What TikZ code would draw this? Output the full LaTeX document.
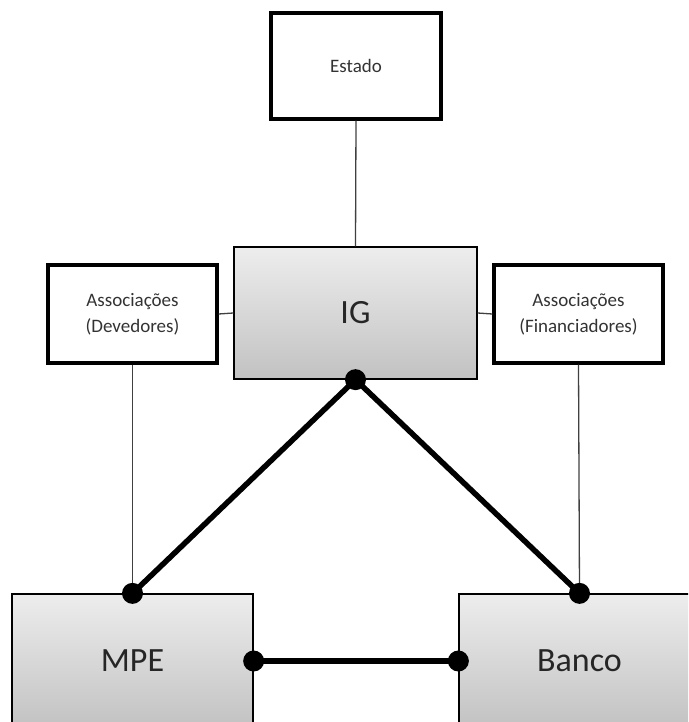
\documentclass[tikz,border=0pt]{standalone}
\usepackage{fontspec}
\setmainfont{Carlito}
\usetikzlibrary{arrows.meta}

\tikzset{
  plainbox/.style={draw, line width=3.2pt, fill=white, align=center, inner sep=0pt, text=black!80},
  shadedbox/.style={draw, line width=1.3pt, top color=black!7, bottom color=black!24, inner sep=0pt, text=black!85},
  thinline/.style={line width=1.3pt, black!75},
  thickline/.style={line width=5.5pt, black},
  dot/.style={circle, fill=black, inner sep=0pt, minimum size=21pt}
}

\begin{document}
\begin{tikzpicture}[x=1pt,y=-1pt]
            \clip (0,0) rectangle (688,722);

            \node[plainbox, minimum width=170pt, minimum height=106pt, font=\fontsize{19}{23}\selectfont] (estado) at (356,66) {Estado};

            \node[shadedbox, minimum width=243pt, minimum height=132pt, font=\fontsize{34}{40}\selectfont] (ig) at (355.5,313) {IG};

            \node[plainbox, minimum width=169pt, minimum height=98pt, font=\fontsize{19}{26}\selectfont] (dev) at (132.5,314) {Associações\\(Devedores)};
            \node[plainbox, minimum width=169pt, minimum height=98pt, font=\fontsize{19}{26}\selectfont] (fin) at (578.5,314) {Associações\\(Financiadores)};

            \node[shadedbox, minimum width=241pt, minimum height=134pt, font=\fontsize{34}{40}\selectfont] (mpe) at (132.5,661) {MPE};
            \node[shadedbox, minimum width=241pt, minimum height=134pt, font=\fontsize{34}{40}\selectfont] (banco) at (579.5,661) {Banco};

            % thin links
            \draw[thinline] (estado.south) -- (ig.north);
            \draw[thinline] (dev.east) -- (ig.west);
            \draw[thinline] (fin.west) -- (ig.east);
            \draw[thinline] (dev.south) -- (mpe.north);
            \draw[thinline] (fin.south) -- (banco.north);

            % heavy links
            \node[dot] (igdot) at (ig.south) {};
            \node[dot] (mpetop) at (mpe.north) {};
            \node[dot] (bancotop) at (banco.north) {};
            \node[dot] (mpeside) at (mpe.east) {};
            \node[dot] (bancoside) at (banco.west) {};

            \draw[thickline] (igdot.center) -- (mpetop.center);
            \draw[thickline] (igdot.center) -- (bancotop.center);
            \draw[thickline] (mpeside.center) -- (bancoside.center);
        \end{tikzpicture}
\end{document}
